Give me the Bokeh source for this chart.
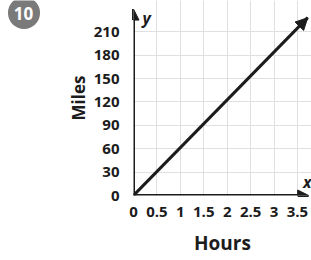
from bokeh.plotting import figure
from bokeh.layouts import row
from bokeh.models import Arrow, NormalHead, Label, FixedTicker, ColumnDataSource
from bokeh.core.properties import value
from bokeh.embed import file_html
from bokeh.resources import INLINE

# data
hours = [0, 3.72]
miles = [0, 228]
x_ticks = [0, 0.5, 1, 1.5, 2, 2.5, 3, 3.5]
y_ticks = [0, 30, 60, 90, 120, 150, 180, 210]
x_end = 3.80
y_end = 250
x_axis_tip = 3.74
y_axis_tip = 239
problem_number = "10"

FONT = "Open Sans"
INK = "#1c1c1c"
W, H = 311, 260
BADGE_W = 55

# ---- badge (separate small figure so it is not clipped) ----
pb = figure(width=BADGE_W, height=H, x_range=(0, BADGE_W), y_range=(0, H),
            output_backend="svg", toolbar_location=None,
            x_axis_location=None, y_axis_location=None, min_border=0)
pb.outline_line_color = None
pb.grid.visible = False
pb.scatter([23.5], [H - 16.5], size=32, fill_color="#7a7a7a", line_color=None)
pb.text([23], [H - 17], text=[problem_number], text_font=value(FONT), text_font_style="bold",
        text_font_size="17px", text_color="white", text_align="center", text_baseline="middle")

# ---- main chart ----
p = figure(width=W - BADGE_W, height=H, x_range=(0, x_end), y_range=(0, y_end),
           output_backend="svg", toolbar_location=None,
           min_border_left=133 - BADGE_W, min_border_right=0, min_border_top=0,
           min_border_bottom=65)
p.outline_line_color = None
p.background_fill_color = "white"

for g in (p.xgrid, p.ygrid):
    g.grid_line_color = "#e0e0e0"
    g.grid_line_width = 1
p.xgrid.ticker = FixedTicker(ticks=x_ticks)
p.ygrid.ticker = FixedTicker(ticks=y_ticks)

p.xaxis.ticker = FixedTicker(ticks=x_ticks)
p.yaxis.ticker = FixedTicker(ticks=y_ticks)
for ax in (p.xaxis[0], p.yaxis[0]):
    ax.axis_line_color = None
    ax.major_tick_line_color = None
    ax.minor_tick_line_color = None
    ax.major_label_text_font = FONT
    ax.major_label_text_font_style = "bold"
    ax.major_label_text_font_size = "15px"
    ax.major_label_text_color = INK
    ax.axis_label_text_font = FONT
    ax.axis_label_text_font_style = "bold"
    ax.axis_label_text_color = INK
p.xaxis.major_label_overrides = {t: ("%g" % t) for t in x_ticks}
p.xaxis.axis_label = "Hours"
p.yaxis.axis_label = "Miles"
p.xaxis.axis_label_text_font_size = "19px"
p.yaxis.axis_label_text_font_size = "17px"
p.xaxis.major_label_standoff = 5
p.yaxis.major_label_standoff = 8
p.xaxis.axis_label_standoff = 10
p.yaxis.axis_label_standoff = 1

# axis arrows
axes_src = ColumnDataSource(dict(xs=[0, 0], ys=[0, 0], xe=[x_axis_tip, 0], ye=[0, y_axis_tip]))
p.add_layout(Arrow(source=axes_src, x_start="xs", y_start="ys", x_end="xe", y_end="ye",
                   line_width=3, line_color=INK,
                   end=NormalHead(size=11, fill_color=INK, line_color=INK)))

# the line
p.line(hours, miles, line_width=3, line_color=INK)
line_src = ColumnDataSource(dict(xs=[hours[-2]], ys=[miles[-2]], xe=[hours[-1]], ye=[miles[-1]]))
p.add_layout(Arrow(source=line_src, x_start="xs", y_start="ys", x_end="xe", y_end="ye",
                   line_width=0, line_alpha=0,
                   end=NormalHead(size=12, fill_color=INK, line_color=INK)))

# axis letters
p.add_layout(Label(x=0.28, y=227, text="y", text_font=FONT, text_font_style="bold italic",
                   text_font_size="16px", text_color=INK, text_align="center", text_baseline="middle"))
p.add_layout(Label(x=3.71, y=17, text="x", text_font=FONT, text_font_style="bold italic",
                   text_font_size="16px", text_color=INK, text_align="center", text_baseline="middle"))

layout = row(pb, p, spacing=0)
open("out.html", "w").write(file_html(layout, INLINE))
